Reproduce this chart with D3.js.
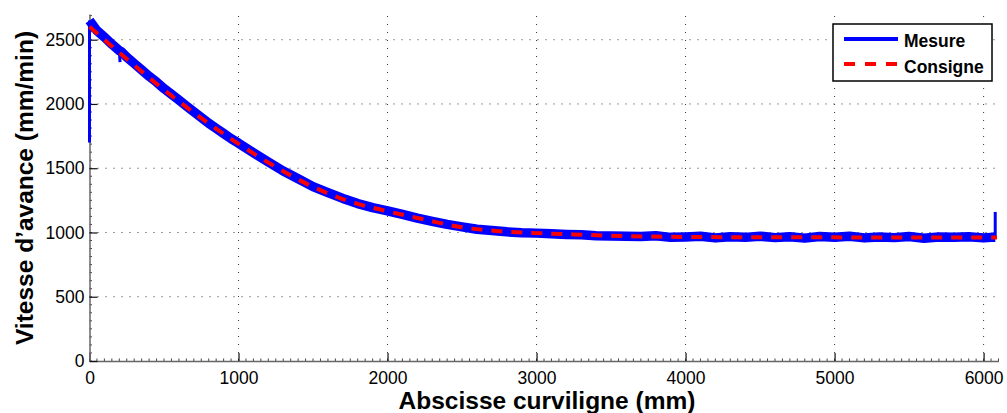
<!DOCTYPE html>
<html><head><meta charset="utf-8">
<script src="https://cdn.jsdelivr.net/npm/d3@7"></script>
<style>
html,body{margin:0;padding:0;background:#fff;}
text{font-family:"Liberation Sans",Arial,Helvetica,sans-serif;}
</style></head>
<body>
<svg id="chart" width="1007" height="413"></svg>
<script>
// ---- data ----
const xTicks = [0, 1000, 2000, 3000, 4000, 5000, 6000];
const yTicks = [0, 500, 1000, 1500, 2000, 2500];
const seriesNames = ["Mesure", "Consigne"];
const xLabel = "Abscisse curviligne (mm)";
const yLabel = "Vitesse d\u2019avance (mm/min)";

const consigneX = [0, 250, 500, 750, 1000, 1250, 1500, 1750, 2000, 2250, 2500, 2750, 3000, 3250, 3500, 4000, 5000, 6090];
const consigneY = [2600, 2350, 2110, 1890, 1690, 1510, 1355, 1240, 1165, 1100, 1040, 1010, 995, 985, 975, 965, 962, 960];

const mesureX = [0, 0, 15, 50, 100, 150, 200, 205, 210, 250, 300, 350, 400, 450, 500, 550, 600, 650, 700, 750, 800, 850, 900, 950, 1000,
  1100, 1200, 1300, 1400, 1500, 1600, 1700, 1800, 1900, 2000, 2100, 2200, 2300, 2400, 2500, 2600, 2700, 2800, 2900, 3000,
  3100, 3200, 3300, 3400, 3500, 3600, 3700, 3800, 3900, 4000, 4100, 4200, 4300, 4400, 4500, 4600, 4700, 4800, 4900, 5000,
  5100, 5200, 5300, 5400, 5500, 5600, 5700, 5800, 5900, 6000, 6050, 6078, 6078];
const mesureY = [1700, 2650, 2625, 2570, 2520, 2465, 2415, 2325, 2410, 2365, 2315, 2265, 2215, 2170, 2120, 2075, 2030, 1985, 1940, 1895, 1850, 1810, 1770, 1730, 1695,
  1620, 1548, 1478, 1418, 1357, 1310, 1265, 1225, 1193, 1168, 1140, 1112, 1087, 1063, 1044, 1025, 1015, 1005, 998, 995,
  990, 985, 982, 975, 972, 970, 968, 974, 962, 965, 970, 958, 966, 962, 971, 960, 966, 956, 968, 963,
  970, 958, 965, 960, 968, 955, 964, 962, 966, 958, 962, 963, 1160];

// ---- layout ----
const svg = d3.select("#chart");
const x = d3.scaleLinear().domain([0, 6100]).range([89.5, 998.5]);
const y = d3.scaleLinear().domain([0, 2700]).range([361, 14]);
const axisColor = "#444";

// grid
const grid = svg.append("g");
grid.selectAll(".gx").data(xTicks.filter(d => d > 0)).enter().append("line")
  .attr("x1", d => x(d)).attr("x2", d => x(d)).attr("y1", y(0)).attr("y2", y(2700))
  .attr("stroke", "#333").attr("stroke-width", 1).attr("stroke-dasharray", "1,7");
grid.selectAll(".gy").data(yTicks.filter(d => d > 0)).enter().append("line")
  .attr("x1", x(0)).attr("x2", x(6100)).attr("y1", d => y(d)).attr("y2", d => y(d))
  .attr("stroke", "#333").attr("stroke-width", 1).attr("stroke-dasharray", "1,7");

// minor ticks
const xMinor = d3.range(0, 6101, 50);
const yMinor = d3.range(0, 2701, 62.5);
svg.append("g").selectAll("line").data(xMinor).enter().append("line")
  .attr("x1", d => x(d)).attr("x2", d => x(d)).attr("y1", y(0)).attr("y2", y(0) - 2.5)
  .attr("stroke", axisColor).attr("stroke-width", 1);
svg.append("g").selectAll("line").data(yMinor).enter().append("line")
  .attr("x1", x(0)).attr("x2", x(0) + 2.5).attr("y1", d => y(d)).attr("y2", d => y(d))
  .attr("stroke", axisColor).attr("stroke-width", 1);

// axes (ticks inward)
const xAxis = d3.axisBottom(x).tickValues(xTicks).tickSizeInner(-8).tickSizeOuter(0).tickPadding(14).tickFormat(d3.format("d"));
const yAxis = d3.axisLeft(y).tickValues(yTicks).tickSizeInner(-8).tickSizeOuter(0).tickPadding(11).tickFormat(d3.format("d"));
const gx = svg.append("g").attr("transform", `translate(0,${y(0)})`).call(xAxis);
const gy = svg.append("g").attr("transform", `translate(${x(0)},0)`).call(yAxis);
[gx, gy].forEach(g => {
  g.select(".domain").attr("stroke", "#666").attr("stroke-width", 1.5);
  g.selectAll(".tick line").attr("stroke", "#111").attr("stroke-width", 1.2);
  g.selectAll(".tick text").attr("font-size", 17.5).attr("fill", "#000")
    .attr("font-family", "Liberation Sans, Arial, Helvetica, sans-serif");
});
gx.selectAll(".tick text").attr("dy", "0.71em").attr("y", 11);
gy.selectAll(".tick text").attr("x", -5);

// lines
const mesure = mesureX.map((d, i) => [d, mesureY[i]]);
const consigne = consigneX.map((d, i) => [d, consigneY[i]]);
const line = d3.line().x(d => x(d[0])).y(d => y(d[1]));
const n = mesure.length;
// main noisy band (without isolated spikes)
const band = mesure.slice(1, n - 1).filter((d, i) => i !== 6);
svg.append("path").datum(band).attr("d", line)
  .attr("fill", "none").attr("stroke", "#0000ff").attr("stroke-width", 9.5)
  .attr("stroke-linejoin", "round");
// narrow spikes
[[mesure[0], mesure[1]], [mesure[5], mesure[6], mesure[7]], [mesure[n - 2], mesure[n - 1]]].forEach(seg => {
  svg.append("path").datum(seg).attr("d", line)
    .attr("fill", "none").attr("stroke", "#0000ff").attr("stroke-width", 3);
});
svg.append("path").datum(consigne).attr("d", d3.line().x(d => x(d[0])).y(d => y(d[1])).curve(d3.curveMonotoneX))
  .attr("fill", "none").attr("stroke", "#ff0000").attr("stroke-width", 4)
  .attr("stroke-dasharray", "11,9");

// axis titles
svg.append("text").attr("x", 547).attr("y", 409).attr("text-anchor", "middle")
  .attr("font-size", 24.5).attr("font-weight", "bold").text(xLabel);
svg.append("text").attr("transform", "translate(33,188) rotate(-90)").attr("text-anchor", "middle")
  .attr("font-size", 24.5).attr("font-weight", "bold").text(yLabel);

// legend
const lg = svg.append("g");
lg.append("rect").attr("x", 833).attr("y", 24).attr("width", 159).attr("height", 57)
  .attr("fill", "#fff").attr("stroke", "#000").attr("stroke-width", 1.5);
lg.append("line").attr("x1", 844).attr("x2", 898).attr("y1", 39).attr("y2", 39)
  .attr("stroke", "#0000ff").attr("stroke-width", 4);
lg.append("line").attr("x1", 844).attr("x2", 898).attr("y1", 64).attr("y2", 64)
  .attr("stroke", "#ff0000").attr("stroke-width", 4).attr("stroke-dasharray", "11,10");
lg.append("text").attr("x", 904).attr("y", 46.5).attr("font-size", 17.5).attr("font-weight", "bold").text(seriesNames[0]);
lg.append("text").attr("x", 904).attr("y", 72.5).attr("font-size", 17.5).attr("font-weight", "bold").text(seriesNames[1]);
</script>
</body></html>
